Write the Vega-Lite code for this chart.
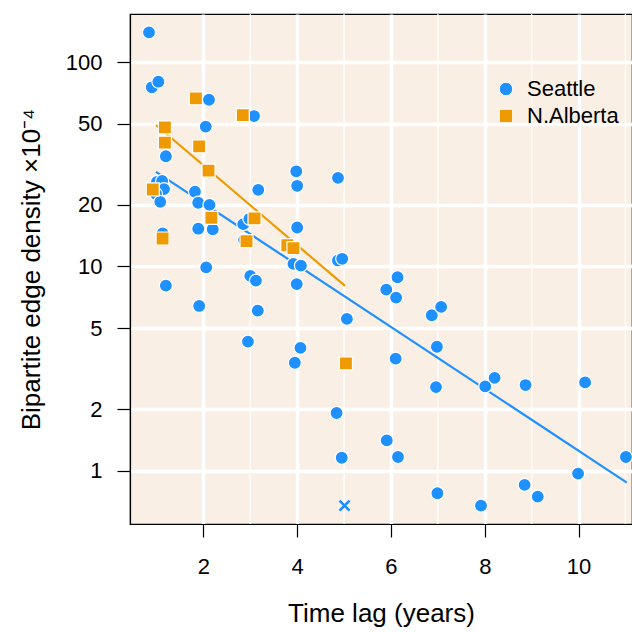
{
  "$schema": "https://vega.github.io/schema/vega-lite/v6.json",
  "autosize": "none",
  "width": 502,
  "height": 510,
  "padding": {"left": 130, "top": 14, "right": 0, "bottom": 108},
  "background": "white",
  "config": {
    "font": "Liberation Sans",
    "view": {"fill": "#faefe5", "stroke": "black", "strokeWidth": 1.2},
    "axis": {
      "domain": true, "domainColor": "black", "domainWidth": 1.2,
      "ticks": true, "tickColor": "black", "tickSize": 13, "tickWidth": 1.2,
      "labelFont": "Liberation Sans", "labelColor": "black", "labelFontSize": 22,
      "titleFont": "Liberation Sans", "titleColor": "black", "titleFontSize": 26, "titleFontWeight": "normal",
      "grid": true, "gridColor": "white", "gridWidth": 3.5, "gridOpacity": 1
    },
    "legend": {"labelFont": "Liberation Sans", "labelFontSize": 22, "labelColor": "black"}
  },
  "datasets": {
    "pts": [
      {"lag": 0.84, "density": 139.7, "site": "Seattle"},
      {"lag": 0.90, "density": 75.2, "site": "Seattle"},
      {"lag": 1.04, "density": 80.1, "site": "Seattle"},
      {"lag": 2.12, "density": 65.4, "site": "Seattle"},
      {"lag": 3.08, "density": 54.4, "site": "Seattle"},
      {"lag": 2.05, "density": 48.3, "site": "Seattle"},
      {"lag": 1.20, "density": 34.6, "site": "Seattle"},
      {"lag": 3.98, "density": 29.2, "site": "Seattle"},
      {"lag": 4.00, "density": 24.8, "site": "Seattle"},
      {"lag": 4.87, "density": 27.1, "site": "Seattle"},
      {"lag": 4.00, "density": 15.5, "site": "Seattle"},
      {"lag": 3.92, "density": 10.3, "site": "Seattle"},
      {"lag": 4.08, "density": 10.1, "site": "Seattle"},
      {"lag": 3.99, "density": 8.2, "site": "Seattle"},
      {"lag": 4.87, "density": 10.7, "site": "Seattle"},
      {"lag": 4.96, "density": 10.9, "site": "Seattle"},
      {"lag": 5.06, "density": 5.54, "site": "Seattle"},
      {"lag": 5.90, "density": 7.70, "site": "Seattle"},
      {"lag": 6.14, "density": 8.86, "site": "Seattle"},
      {"lag": 6.11, "density": 7.04, "site": "Seattle"},
      {"lag": 6.87, "density": 5.77, "site": "Seattle"},
      {"lag": 7.07, "density": 6.34, "site": "Seattle"},
      {"lag": 6.98, "density": 4.05, "site": "Seattle"},
      {"lag": 4.07, "density": 4.0, "site": "Seattle"},
      {"lag": 3.95, "density": 3.38, "site": "Seattle"},
      {"lag": 6.10, "density": 3.54, "site": "Seattle"},
      {"lag": 6.96, "density": 2.57, "site": "Seattle"},
      {"lag": 4.84, "density": 1.92, "site": "Seattle"},
      {"lag": 5.91, "density": 1.41, "site": "Seattle"},
      {"lag": 4.95, "density": 1.16, "site": "Seattle"},
      {"lag": 6.15, "density": 1.17, "site": "Seattle"},
      {"lag": 6.99, "density": 0.778, "site": "Seattle"},
      {"lag": 8.21, "density": 2.85, "site": "Seattle"},
      {"lag": 8.01, "density": 2.59, "site": "Seattle"},
      {"lag": 8.87, "density": 2.63, "site": "Seattle"},
      {"lag": 10.14, "density": 2.71, "site": "Seattle"},
      {"lag": 11.01, "density": 1.17, "site": "Seattle"},
      {"lag": 9.99, "density": 0.97, "site": "Seattle"},
      {"lag": 8.85, "density": 0.854, "site": "Seattle"},
      {"lag": 9.13, "density": 0.749, "site": "Seattle"},
      {"lag": 7.92, "density": 0.676, "site": "Seattle"},
      {"lag": 1.82, "density": 23.2, "site": "Seattle"},
      {"lag": 1.89, "density": 20.5, "site": "Seattle"},
      {"lag": 2.13, "density": 20.0, "site": "Seattle"},
      {"lag": 1.89, "density": 15.3, "site": "Seattle"},
      {"lag": 2.20, "density": 15.2, "site": "Seattle"},
      {"lag": 3.17, "density": 23.7, "site": "Seattle"},
      {"lag": 2.85, "density": 16.1, "site": "Seattle"},
      {"lag": 2.98, "density": 17.1, "site": "Seattle"},
      {"lag": 2.87, "density": 13.5, "site": "Seattle"},
      {"lag": 1.13, "density": 14.5, "site": "Seattle"},
      {"lag": 2.06, "density": 9.9, "site": "Seattle"},
      {"lag": 1.20, "density": 8.06, "site": "Seattle"},
      {"lag": 3.00, "density": 8.99, "site": "Seattle"},
      {"lag": 3.12, "density": 8.52, "site": "Seattle"},
      {"lag": 1.91, "density": 6.41, "site": "Seattle"},
      {"lag": 3.16, "density": 6.08, "site": "Seattle"},
      {"lag": 2.95, "density": 4.29, "site": "Seattle"},
      {"lag": 1.01, "density": 25.9, "site": "Seattle"},
      {"lag": 1.12, "density": 26.2, "site": "Seattle"},
      {"lag": 1.16, "density": 23.9, "site": "Seattle"},
      {"lag": 0.99, "density": 22.6, "site": "Seattle"},
      {"lag": 1.08, "density": 20.7, "site": "Seattle"},
      {"lag": 1.84, "density": 66.4, "site": "N.Alberta"},
      {"lag": 2.84, "density": 55.0, "site": "N.Alberta"},
      {"lag": 1.18, "density": 47.9, "site": "N.Alberta"},
      {"lag": 1.18, "density": 40.3, "site": "N.Alberta"},
      {"lag": 1.91, "density": 38.7, "site": "N.Alberta"},
      {"lag": 2.11, "density": 29.4, "site": "N.Alberta"},
      {"lag": 0.92, "density": 23.8, "site": "N.Alberta"},
      {"lag": 2.17, "density": 17.3, "site": "N.Alberta"},
      {"lag": 3.09, "density": 17.2, "site": "N.Alberta"},
      {"lag": 2.92, "density": 13.3, "site": "N.Alberta"},
      {"lag": 1.13, "density": 13.7, "site": "N.Alberta"},
      {"lag": 3.79, "density": 12.7, "site": "N.Alberta"},
      {"lag": 3.92, "density": 12.3, "site": "N.Alberta"},
      {"lag": 5.04, "density": 3.36, "site": "N.Alberta"}
    ],
    "fitSeattle": [
      {"lag": 0.99, "density": 29.0},
      {"lag": 11.03, "density": 0.877}
    ],
    "fitAlberta": [
      {"lag": 0.99, "density": 49.2},
      {"lag": 5.02, "density": 8.03}
    ],
    "outlier": [
      {"lag": 5.01, "density": 0.676}
    ],
    "minor": [
      {"lag": 3}, {"lag": 5}, {"lag": 7}, {"lag": 9}, {"lag": 11}
    ]
  },
  "layer": [
    {
      "data": {"name": "minor"},
      "mark": {"type": "rule", "color": "white", "strokeWidth": 1.3},
      "encoding": {
        "x": {"field": "lag", "type": "quantitative",
          "scale": {"domain": [0.435, 11.14], "nice": false, "zero": false},
          "axis": {"values": [2, 4, 6, 8, 10], "title": "Time lag (years)", "labelPadding": 19, "titlePadding": 23}}
      }
    },
    {
      "data": {"name": "fitSeattle"},
      "mark": {"type": "line", "strokeWidth": 2.2, "color": "#1e90ff"},
      "encoding": {
        "x": {"field": "lag", "type": "quantitative"},
        "y": {"field": "density", "type": "quantitative",
          "scale": {"type": "log", "domain": [0.55, 171.7], "nice": false},
          "axis": {"values": [1, 2, 5, 10, 20, 50, 100], "title": "Bipartite edge density  ×10⁻⁴", "labelPadding": 15, "titlePadding": 21}}
      }
    },
    {
      "data": {"name": "fitAlberta"},
      "mark": {"type": "line", "strokeWidth": 2.2, "color": "#ee9a00"},
      "encoding": {
        "x": {"field": "lag", "type": "quantitative"},
        "y": {"field": "density", "type": "quantitative"}
      }
    },
    {
      "data": {"name": "pts"},
      "mark": {"type": "point", "filled": true, "size": 170, "stroke": "white", "strokeWidth": 1.2, "opacity": 1},
      "encoding": {
        "x": {"field": "lag", "type": "quantitative"},
        "y": {"field": "density", "type": "quantitative"},
        "color": {"field": "site", "type": "nominal", "scale": {"domain": ["Seattle", "N.Alberta"], "range": ["#1e90ff", "#ee9a00"]},
          "legend": {"title": null, "orient": "none", "legendX": 365, "legendY": 64, "symbolSize": 180, "symbolStrokeColor": "white", "symbolStrokeWidth": 1, "labelOffset": 10, "rowPadding": 5, "padding": 0}},
        "shape": {"field": "site", "type": "nominal", "scale": {"domain": ["Seattle", "N.Alberta"], "range": ["circle", "square"]}},
        "order": {"field": "site", "sort": "descending"}
      }
    },
    {
      "data": {"name": "outlier"},
      "mark": {"type": "point", "shape": "M-1,-1L1,1M-1,1L1,-1", "filled": false, "size": 100, "color": "#1e90ff", "strokeWidth": 2.6, "opacity": 1},
      "encoding": {
        "x": {"field": "lag", "type": "quantitative"},
        "y": {"field": "density", "type": "quantitative"}
      }
    }
  ]
}
